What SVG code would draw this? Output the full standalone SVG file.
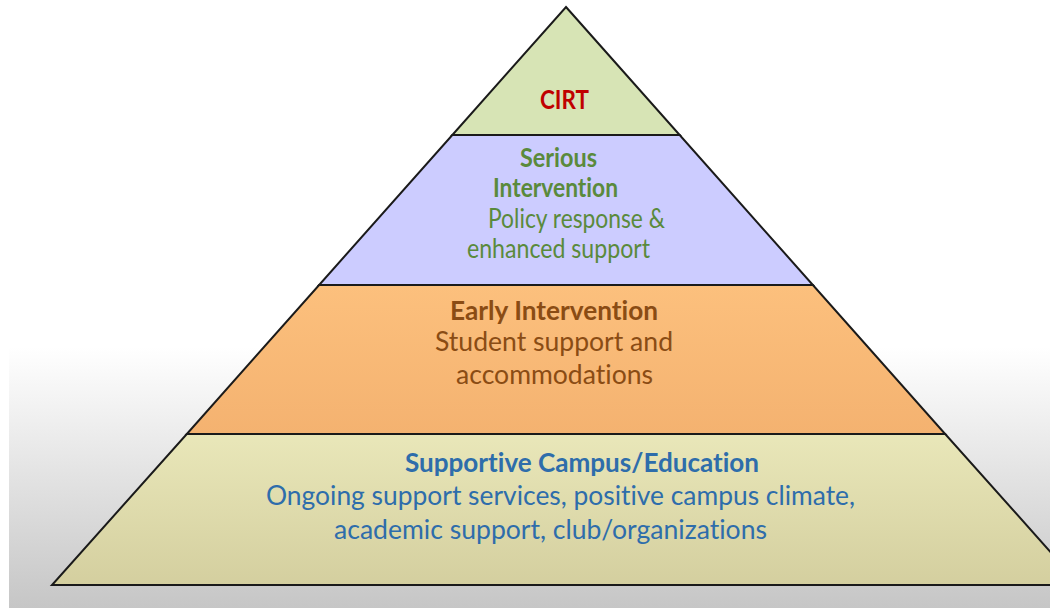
<svg xmlns="http://www.w3.org/2000/svg" width="1050" height="608" viewBox="0 0 1050 608">
  <defs>
    <linearGradient id="floor" x1="0" y1="0" x2="0" y2="1">
      <stop offset="0" stop-color="#ffffff"/>
      <stop offset="1" stop-color="#c6c6c6"/>
    </linearGradient>
    <linearGradient id="orangeFill" x1="0" y1="0" x2="0" y2="1">
      <stop offset="0" stop-color="#fcc07d"/>
      <stop offset="1" stop-color="#f4b270"/>
    </linearGradient>
    <linearGradient id="baseFill" x1="0" y1="0" x2="0" y2="1">
      <stop offset="0" stop-color="#e9e7b9"/>
      <stop offset="1" stop-color="#d4cf9f"/>
    </linearGradient>
  </defs>
  <style>
    .layer { stroke: #1a1a1a; stroke-width: 2; stroke-linejoin: miter; }
    .t { font-family: Lato, "Open Sans", "Liberation Sans", sans-serif; font-size: 26px; font-variant-ligatures: none; }
    .b { font-weight: bold; }
    .red { fill: #c00000; }
    .green { fill: #5a8a3c; }
    .brown { fill: #8a4c14; }
    .blue { fill: #2e6dab; }
  </style>

  <!-- page background: white with a grey floor gradient -->
  <rect x="0" y="0" width="1050" height="608" fill="#ffffff"/>
  <rect x="9" y="347" width="1041" height="261" fill="url(#floor)"/>

  <!-- tier 4: base -->
  <g id="tier-supportive">
    <polygon class="layer" points="186.8,434 945.2,434 1080,585 52,585" fill="url(#baseFill)"/>
    <text class="t b blue" x="405" y="472" textLength="354" lengthAdjust="spacingAndGlyphs">Supportive Campus/Education</text>
    <text class="t blue" x="266" y="505" textLength="589" lengthAdjust="spacingAndGlyphs">Ongoing support services, positive campus climate,</text>
    <text class="t blue" x="334" y="539" textLength="433" lengthAdjust="spacingAndGlyphs">academic support, club/organizations</text>
  </g>

  <!-- tier 3 -->
  <g id="tier-early">
    <polygon class="layer" points="319.1,285 812.9,285 945.2,434 186.8,434" fill="url(#orangeFill)"/>
    <text class="t b brown" x="450" y="320" textLength="208" lengthAdjust="spacingAndGlyphs">Early Intervention</text>
    <text class="t brown" x="435" y="351" textLength="238" lengthAdjust="spacingAndGlyphs">Student support and</text>
    <text class="t brown" x="456" y="384" textLength="197" lengthAdjust="spacingAndGlyphs">accommodations</text>
  </g>

  <!-- tier 2 -->
  <g id="tier-serious">
    <polygon class="layer" points="452.3,135 679.7,135 812.9,285 319.1,285" fill="#ccccff"/>
    <text class="t b green" x="520" y="167" textLength="77" lengthAdjust="spacingAndGlyphs">Serious</text>
    <text class="t b green" x="493" y="197" textLength="125" lengthAdjust="spacingAndGlyphs">Intervention</text>
    <text class="t green" x="488" y="228" textLength="177" lengthAdjust="spacingAndGlyphs">Policy response &amp;</text>
    <text class="t green" x="467" y="258" textLength="183" lengthAdjust="spacingAndGlyphs">enhanced support</text>
  </g>

  <!-- tier 1: apex -->
  <g id="tier-cirt">
    <polygon class="layer" points="566,7 679.7,135 452.3,135" fill="#d7e4b5"/>
    <text class="t b red" x="540" y="109" textLength="49" lengthAdjust="spacingAndGlyphs">CIRT</text>
  </g>
</svg>
